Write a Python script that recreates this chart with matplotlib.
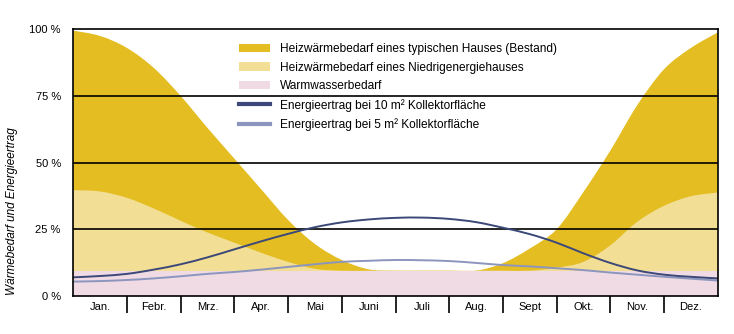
import numpy as np
import matplotlib
matplotlib.use("Agg")
import matplotlib.pyplot as plt
from matplotlib.patches import Patch, PathPatch
from matplotlib.lines import Line2D
from matplotlib.path import Path

plt.rcParams['font.family'] = ['Liberation Sans', 'DejaVu Sans']

# month positions (0 = start of January, 12 = end of December), half-month steps
pos = [0, 0.5, 1, 1.5, 2, 2.5, 3, 3.5, 4, 4.5, 5, 5.5, 6, 6.5, 7, 7.5, 8, 8.5,
       9, 9.5, 10, 10.5, 11, 11.5, 12]

bestand = [99.5, 97.5, 93.0, 85.5, 75.0, 63.0, 51.5, 40.0, 28.5, 19.5, 13.5, 10.0,
           9.5, 9.5, 9.5, 9.5, 12.3, 17.8, 25.0, 39.0, 54.5, 71.5, 85.0, 93.0, 98.8]
niedrig = [39.7, 39.2, 36.8, 32.8, 28.2, 23.8, 20.0, 16.2, 12.8, 10.2, 9.5, 9.5,
           9.5, 9.5, 9.5, 9.5, 9.5, 9.5, 10.6, 12.8, 19.0, 27.8, 33.8, 37.4, 38.8]
warmwasser = [9.5] * 25
ertrag10 = [7.0, 7.5, 8.3, 9.9, 11.9, 14.5, 17.5, 20.5, 23.3, 25.8, 27.6, 28.7,
            29.3, 29.4, 28.9, 27.7, 25.6, 23.2, 20.0, 16.0, 12.4, 9.6, 8.0, 7.2, 6.6]
ertrag5 = [5.4, 5.6, 6.0, 6.6, 7.4, 8.3, 9.0, 9.9, 10.9, 11.9, 12.8, 13.2,
           13.5, 13.4, 13.1, 12.4, 11.6, 11.1, 10.4, 9.7, 8.8, 8.0, 7.2, 6.5, 5.8]

months = ["Jan.", "Febr.", "Mrz.", "Apr.", "Mai", "Juni", "Juli", "Aug.",
          "Sept", "Okt.", "Nov.", "Dez."]
yticks = [0, 25, 50, 75, 100]
ytick_labels = ["0 %", "25 %", "50 %", "75 %", "100 %"]

labels = ["Heizwärmebedarf eines typischen Hauses (Bestand)",
          "Heizwärmebedarf eines Niedrigenergiehauses",
          "Warmwasserbedarf",
          "Energieertrag bei 10 m² Kollektorfläche",
          "Energieertrag bei 5 m² Kollektorfläche"]

c_dark = "#E4BD22"
c_light = "#F2DE94"
c_pink = "#F0DBE4"
c_blue = "#3B4878"
c_lblue = "#8C95BE"


def smooth_path_parts(xs, ys):
    """Bezier (Catmull-Rom) segments through the read points."""
    p = np.column_stack([xs, ys]).astype(float)
    ext = np.vstack([p[0], p, p[-1]])
    verts = [p[0]]
    codes = [Path.MOVETO]
    for i in range(len(p) - 1):
        p0, p1, p2, p3 = ext[i], ext[i + 1], ext[i + 2], ext[i + 3]
        c1 = p1 + (p2 - p0) / 6.0
        c2 = p2 - (p3 - p1) / 6.0
        verts += [c1, c2, p2]
        codes += [Path.CURVE4] * 3
    return verts, codes


def add_fill(ax, xs, ys, color, z):
    verts, codes = smooth_path_parts(xs, ys)
    verts = verts + [(xs[-1], 0), (xs[0], 0), (xs[0], ys[0])]
    codes = codes + [Path.LINETO, Path.LINETO, Path.CLOSEPOLY]
    ax.add_patch(PathPatch(Path(verts, codes), facecolor=color, edgecolor="none",
                           lw=0, zorder=z, transform=ax.transData))


def add_line(ax, xs, ys, color, z, lw=1.4):
    verts, codes = smooth_path_parts(xs, ys)
    ax.add_patch(PathPatch(Path(verts, codes), facecolor="none", edgecolor=color,
                           lw=lw, zorder=z, transform=ax.transData))


fig = plt.figure(figsize=(7.34, 3.34), dpi=100)
ax = fig.add_axes([73.3 / 734, 38 / 334, 644.4 / 734, 266.7 / 334])

add_fill(ax, pos, bestand, c_dark, 1)
add_fill(ax, pos, niedrig, c_light, 2)
ax.fill_between(pos, 0, warmwasser, color=c_pink, lw=0, zorder=3)

for g in [25, 50, 75]:
    ax.axhline(g, color="black", lw=1.2, zorder=4)

add_line(ax, pos, ertrag5, c_lblue, 5)
add_line(ax, pos, ertrag10, c_blue, 6)

ax.set_xlim(0, 12)
ax.set_ylim(0, 100)
for s in ax.spines.values():
    s.set_linewidth(1.2)
    s.set_color("black")
    s.set_zorder(8)

ax.set_xticks(np.arange(12) + 0.5)
ax.set_xticklabels(months, fontsize=8)
ax.set_xticks(np.arange(1, 12), minor=True)
ax.tick_params(axis="x", which="major", length=0, pad=4)
ax.tick_params(axis="x", which="minor", length=12, width=1.2, direction="out", color="black")

ax.set_yticks(yticks)
ax.set_yticklabels(ytick_labels, fontsize=8)
ax.tick_params(axis="y", length=0, pad=9)

fig.text(12 / 734, 1 - 211 / 334, "Wärmebedarf und Energieertrag", rotation=90,
         style="italic", fontsize=8.5, ha="center", va="center")

handles = [Patch(facecolor=c_dark, edgecolor="none"),
           Patch(facecolor=c_light, edgecolor="none"),
           Patch(facecolor=c_pink, edgecolor="none"),
           Line2D([], [], color=c_blue, lw=3),
           Line2D([], [], color=c_lblue, lw=3)]
leg = ax.legend(handles, labels, loc="upper left",
                bbox_to_anchor=((239 - 73.3) / 644.4, (296 - 43) / 266.7),
                frameon=False, fontsize=8.6, handlelength=2.6, handletextpad=0.8,
                labelspacing=0.55, borderpad=0, borderaxespad=0)
leg.set_zorder(10)

fig.savefig("out.png", dpi=100)
